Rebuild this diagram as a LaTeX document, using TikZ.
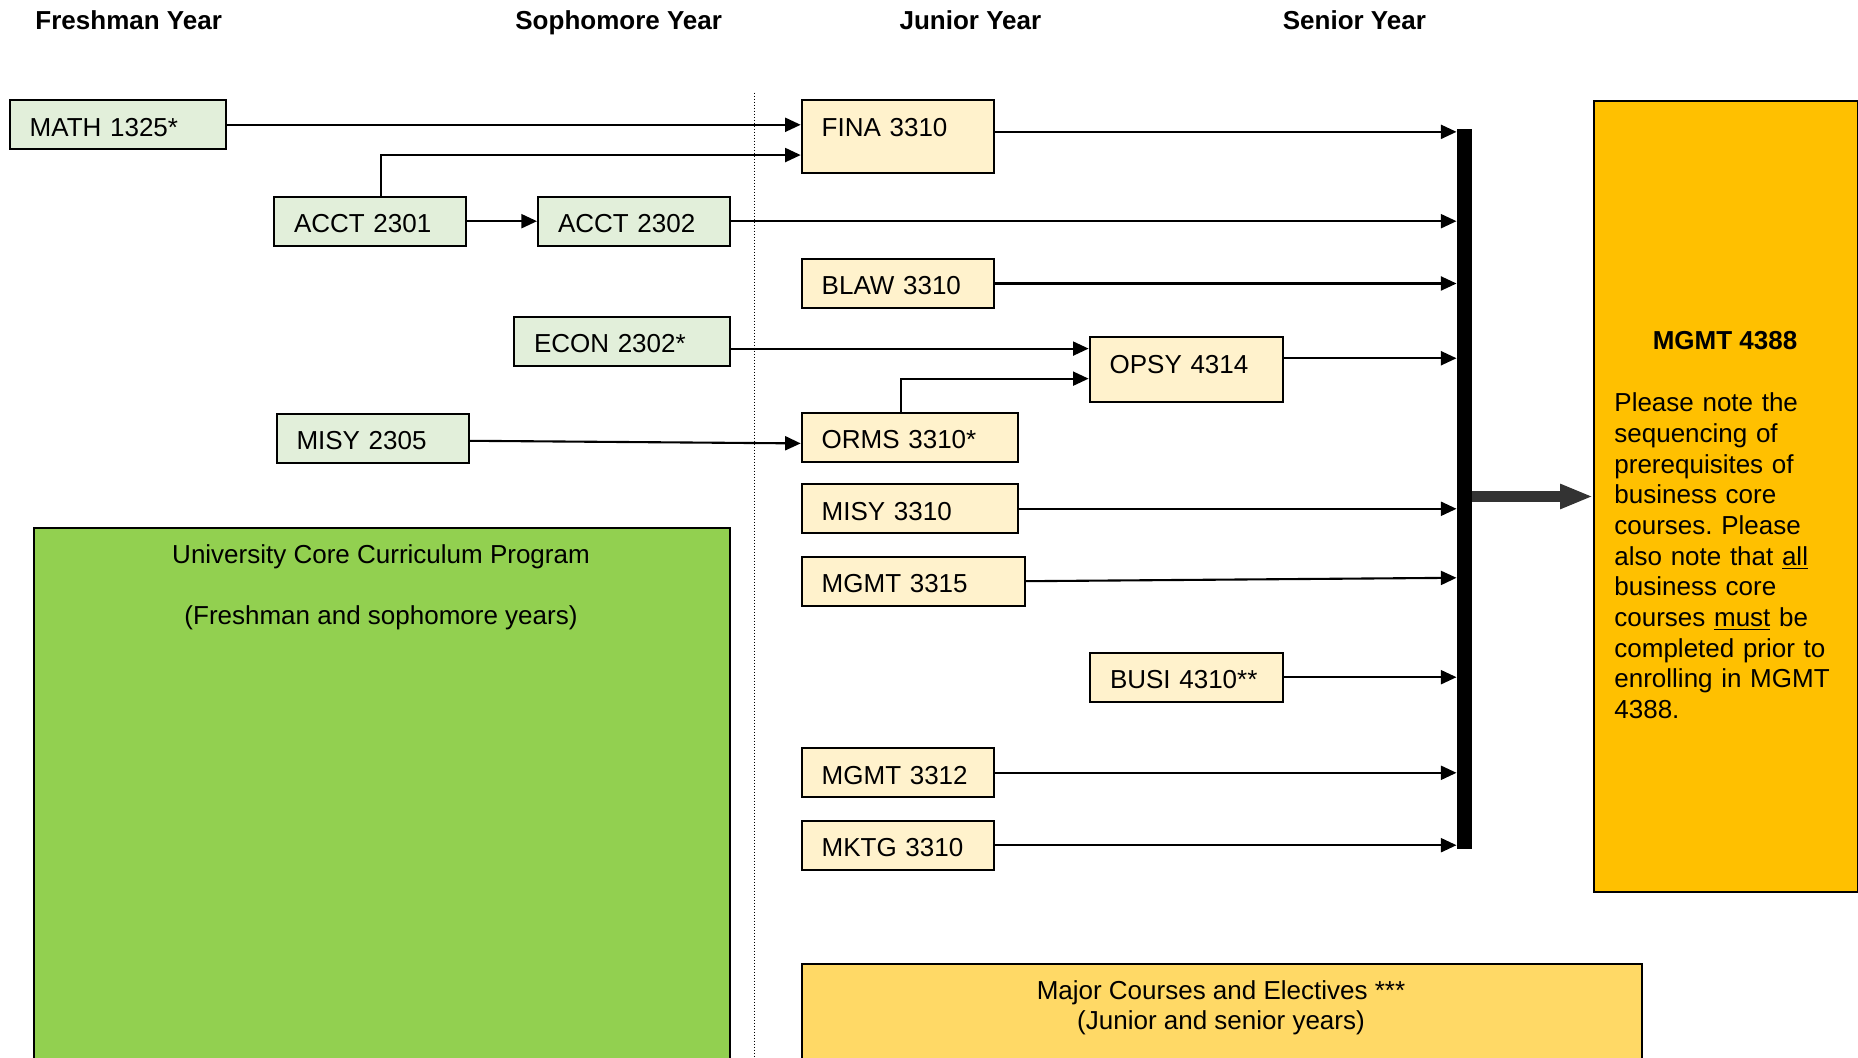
\documentclass[tikz,border=0pt]{standalone}
\usepackage{fontspec}
\setmainfont{Liberation Sans}
\usetikzlibrary{arrows.meta}
\frenchspacing

\definecolor{freshgreen}{HTML}{E2EFDA}
\definecolor{juniorcream}{HTML}{FFF2CC}
\definecolor{ucgreen}{HTML}{92D050}
\definecolor{capgold}{HTML}{FFC000}
\definecolor{majoryellow}{HTML}{FFD966}
\definecolor{arrowgray}{HTML}{333333}

\tikzset{
  course/.style={draw, line width=1pt, anchor=north west, inner xsep=10pt, inner ysep=0pt,
    text height=18pt, text depth=6.5pt, align=left, text width=76pt},
  fresh/.style={course, fill=freshgreen},
  junior/.style={course, fill=juniorcream},
  wide/.style={text width=88pt},
  flow/.style={-{Triangle[length=7.8pt,width=7pt]}, line width=1.05pt},
  bigflow/.style={-{Triangle[length=16.5pt,width=11.5pt]}, line width=5.3pt, arrowgray},
  yearhead/.style={anchor=base, font=\fontsize{13}{15}\selectfont\bfseries}
}

\begin{document}
\begin{tikzpicture}[x=0.5pt, y=-0.5pt, every node/.style={font=\fontsize{13}{15}\selectfont}]
  \useasboundingbox (0,0) rectangle (1858,1058);

  % year headings
  \node[yearhead] (fresh) at (128.7,29.3) {Freshman Year};
  \node[yearhead] (soph) at (618.7,29.3) {Sophomore Year};
  \node[yearhead] (jun) at (970.4,29.3) {Junior Year};
  \node[yearhead] (sen) at (1354.4,29.3) {Senior Year};

  \draw[densely dotted, line width=0.5pt] (754.5,92.7) -- (754.5,1070);

  % big background boxes
  \node[draw, line width=1pt, fill=ucgreen, anchor=north west, inner sep=0pt,
        minimum width=348pt, minimum height=272pt] (ucc) at (33,527) {};
  \node[anchor=base] (ucctitle) at (381,563.3) {University Core Curriculum Program};
  \node[anchor=base] (uccyears) at (381,624.5) {(Freshman and sophomore years)};

  \node[draw, line width=1pt, fill=majoryellow, anchor=north west, inner sep=0pt,
        minimum width=420pt, minimum height=60pt] (major) at (801,963) {};
  \node[anchor=base] (majortitle) at (1221,999.3) {Major Courses and Electives ***};
  \node[anchor=base] (majoryears) at (1221,1029) {(Junior and senior years)};

  % freshman and sophomore courses
  \node[fresh, wide] (math) at (8.7,99.3) {MATH 1325*};
  \node[fresh] (acct1) at (273,195.7) {ACCT 2301};
  \node[fresh] (acct2) at (537,195.7) {ACCT 2302};
  \node[fresh, wide] (econ) at (513,315.7) {ECON 2302*};
  \node[fresh] (misy1) at (275.5,412.7) {MISY 2305};

  % junior and senior courses
  \node[junior, text depth=18.35pt] (fina) at (800.7,99.3) {FINA 3310};
  \node[junior] (blaw) at (800.7,258) {BLAW 3310};
  \node[junior, text width=76.5pt, text depth=14.35pt] (opsy) at (1088.6,336.3) {OPSY 4314};
  \node[junior, wide] (orms) at (800.7,411.7) {ORMS 3310*};
  \node[junior, wide] (misy3) at (800.7,483.3) {MISY 3310};
  \node[junior, text width=91.5pt] (mgmt5) at (800.7,555.7) {MGMT 3315};
  \node[junior, text width=76.5pt] (busi) at (1089,651.7) {BUSI 4310**};
  \node[junior] (mgmt2) at (800.7,747.3) {MGMT 3312};
  \node[junior] (mktg) at (800.7,819.7) {MKTG 3310};

  % capstone
  \node[fill=black, inner sep=0pt, minimum width=7.5pt, minimum height=359.7pt,
        anchor=north west] (bar) at (1456.5,129) {};
  \node[draw, line width=1pt, fill=capgold, anchor=north west, inner sep=0pt,
        minimum width=132pt, minimum height=395.5pt] (mgmt) at (1593,100) {};
  \node[anchor=base, font=\fontsize{13}{15}\selectfont\bfseries] (mgmttitle) at (1725,349.3) {MGMT 4388};
  \node[anchor=base west, text width=112pt, align=left, inner sep=0pt,
        font=\fontsize{13}{15.35}\selectfont] (mgmtnote) at (1614,411.7)
    {Please note the\\ sequencing of\\ prerequisites of\\ business core\\ courses. Please\\
     also note that \underline{all}\\ business core\\ courses \underline{must} be\\
     completed prior to\\ enrolling in MGMT\\ 4388.};

  % prerequisites
  \draw[flow] (math.east) -- (math.east -| fina.west);
  \draw[flow] ([xshift=5.5pt]acct1.north) |- ([yshift=-9.2pt]fina.west);
  \draw[flow] (acct1) -- (acct2);
  \draw[flow] ([yshift=-3.7pt]econ.east) -- ([yshift=-3.7pt]econ.east -| opsy.west);
  \draw[flow] ([xshift=-4.2pt]orms.north) |- ([yshift=-4.5pt]opsy.west);
  \draw[flow] ([yshift=-1.3pt]misy1.east) -- ([yshift=-3.1pt]orms.west);

  % into the capstone
  \draw[flow] ([yshift=2.4pt]fina.east) -- ([yshift=2.4pt]fina.east -| bar.west);
  \draw[flow] (acct2.east) -- (acct2.east -| bar.west);
  \draw[flow] (blaw.east) -- (blaw.east -| bar.west);
  \draw[flow] ([yshift=5.7pt]opsy.east) -- ([yshift=5.7pt]opsy.east -| bar.west);
  \draw[flow] (misy3.east) -- (misy3.east -| bar.west);
  \draw[flow] (mgmt5.east) -- ([yshift=1.7pt]mgmt5.east -| bar.west);
  \draw[flow] (busi.east) -- (busi.east -| bar.west);
  \draw[flow] (mgmt2.east) -- (mgmt2.east -| bar.west);
  \draw[flow] (mktg.east) -- (mktg.east -| bar.west);
  \draw[bigflow] (bar.east |- mgmt.west) -- (mgmt.west);
\end{tikzpicture}
\end{document}
